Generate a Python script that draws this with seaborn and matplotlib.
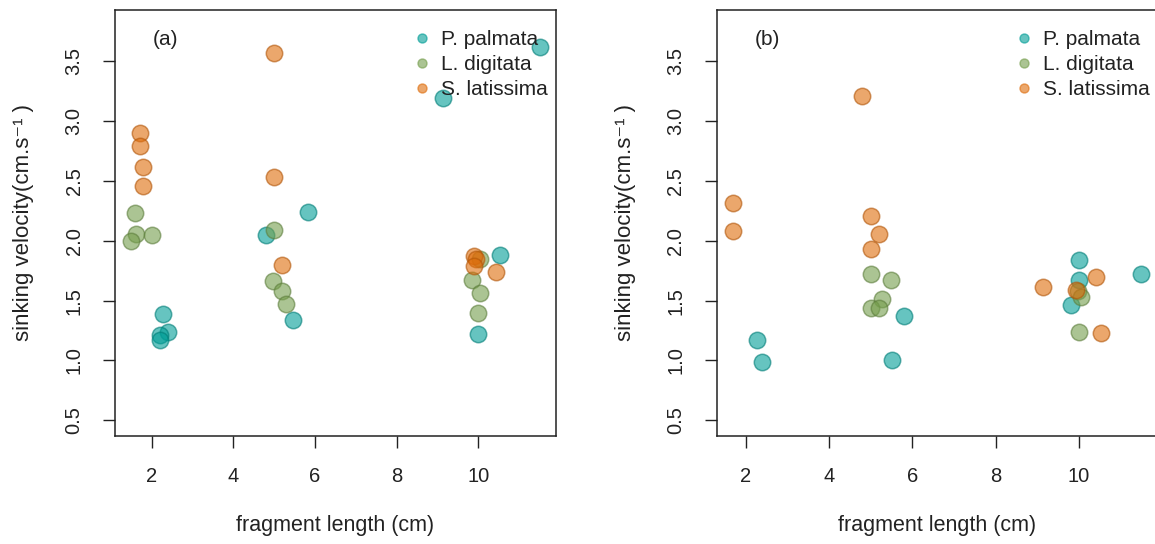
import matplotlib
matplotlib.use("Agg")
import matplotlib.pyplot as plt
from matplotlib.lines import Line2D
from matplotlib.colors import to_rgb
import seaborn as sns
import pandas as pd

# ---- data: panel (a) ----
pp_a_x = [2.28, 2.41, 2.20, 2.19, 4.79, 5.47, 5.83, 9.13, 10.0, 10.54, 11.5]
pp_a_y = [1.39, 1.24, 1.21, 1.17, 2.05, 1.34, 2.24, 3.19, 1.22, 1.88, 3.62]
ld_a_x = [1.59, 1.62, 1.50, 2.00, 5.00, 4.98, 5.19, 5.29, 10.05, 9.84, 10.05, 10.0]
ld_a_y = [2.23, 2.06, 2.00, 2.05, 2.09, 1.66, 1.58, 1.47, 1.85, 1.67, 1.56, 1.40]
sl_a_x = [1.70, 1.70, 1.79, 1.79, 5.00, 5.00, 5.19, 9.88, 9.95, 9.90, 10.44]
sl_a_y = [2.90, 2.79, 2.62, 2.46, 3.57, 2.53, 1.80, 1.87, 1.85, 1.79, 1.74]

# ---- data: panel (b) ----
pp_b_x = [2.28, 2.39, 5.80, 5.51, 10.0, 10.0, 9.80, 11.5]
pp_b_y = [1.17, 0.99, 1.375, 1.00, 1.84, 1.67, 1.46, 1.72]
ld_b_x = [5.00, 5.48, 5.28, 5.00, 5.20, 9.97, 10.05, 10.0]
ld_b_y = [1.72, 1.67, 1.51, 1.44, 1.44, 1.58, 1.53, 1.24]
sl_b_x = [1.71, 1.71, 4.79, 5.00, 5.20, 5.00, 9.13, 9.93, 10.40, 10.52]
sl_b_y = [2.32, 2.08, 3.21, 2.21, 2.06, 1.93, 1.61, 1.59, 1.70, 1.23]

species = ["P. palmata", "L. digitata", "S. latissima"]
colors = ["#009D96", "#749D4B", "#DE6C0A"]
x_ticks = [2, 4, 6, 8, 10]
y_ticks = [0.5, 1.0, 1.5, 2.0, 2.5, 3.0, 3.5]
panel_labels = ["(a)", "(b)"]
xlabel = "fragment length (cm)"
ylabel = "sinking velocity(cm.s\u207b\u00b9 )"


def long_df(pp_x, pp_y, ld_x, ld_y, sl_x, sl_y):
    frames = []
    for name, xs, ys in zip(species, [pp_x, ld_x, sl_x], [pp_y, ld_y, sl_y]):
        frames.append(pd.DataFrame({"length": xs, "velocity": ys, "species": name}))
    return pd.concat(frames, ignore_index=True)


df_a = long_df(pp_a_x, pp_a_y, ld_a_x, ld_a_y, sl_a_x, sl_a_y)
df_b = long_df(pp_b_x, pp_b_y, ld_b_x, ld_b_y, sl_b_x, sl_b_y)

sns.set_style("ticks")
plt.rcParams["font.family"] = ["Liberation Sans", "DejaVu Sans"]

FS = 15.5
FS_TICK = 14.5
FS_LEG = 15
TXT = "#222222"
fig = plt.figure(figsize=(11.55, 5.44), dpi=100)
W, H = 1155.0, 544.0
axL = [115.0, 716.7]
ax_w = 441.0
ax_top, ax_bot = 9.7, 436.0
xlims = [(1.1, 11.9), (1.308, 11.892)]


def darker(c, f=0.8):
    r, g, b = to_rgb(c)
    return (r * f, g * f, b * f)


for i, df in enumerate([df_a, df_b]):
    ax = fig.add_axes([axL[i] / W, 1 - ax_bot / H, ax_w / W, (ax_bot - ax_top) / H])
    for name, col in zip(species, colors):
        sub = df[df["species"] == name]
        sns.scatterplot(data=sub, x="length", y="velocity", color=col, s=140,
                        alpha=0.6, edgecolor=darker(col), linewidth=1.1,
                        legend=False, ax=ax)
    ax.set_xlim(*xlims[i])
    ax.set_ylim(0.368, 3.932)
    ax.set_xticks(x_ticks)
    ax.set_yticks(y_ticks)
    ax.set_xticklabels([str(t) for t in x_ticks])
    ax.set_yticklabels([f"{t:.1f}" for t in y_ticks], rotation=90, va="center")
    ax.tick_params(axis="both", direction="out", length=8.6, width=1.0,
                   labelsize=FS_TICK, pad=14, colors=TXT, labelcolor=TXT)
    for sp in ax.spines.values():
        sp.set_visible(True)
        sp.set_linewidth(1.1)
        sp.set_color(TXT)
    ax.set_xlabel(xlabel, fontsize=FS, color=TXT)
    ax.set_ylabel(ylabel, fontsize=FS + 0.5, color=TXT)
    ax.xaxis.label.set_va("center")
    ax.yaxis.label.set_va("center")
    ax.xaxis.set_label_coords(0.5, (ax_bot - 525) / (ax_bot - ax_top))
    ax.yaxis.set_label_coords((24 - 115) / ax_w, 0.5)
    ax.text(0.086, 0.929, panel_labels[i], transform=ax.transAxes,
            fontsize=FS_LEG, ha="left", va="center", color=TXT)
    handles = [Line2D([0], [0], marker="o", linestyle="none", markersize=6.5,
                      markerfacecolor=c, markeredgecolor=c, alpha=0.6) for c in colors]
    ax.legend(handles, species, loc="upper right", bbox_to_anchor=(1.0, 0.972),
              frameon=False, fontsize=FS_LEG, handlelength=0.6, handletextpad=0.6,
              labelspacing=0.29, borderaxespad=0.2, borderpad=0.2,
              labelcolor=TXT)

fig.savefig("out.png", dpi=100)
